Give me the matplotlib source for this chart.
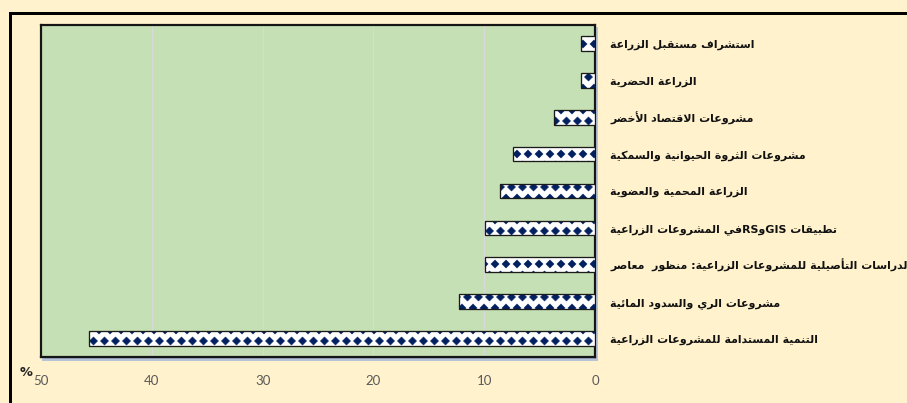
import re

import matplotlib
matplotlib.use('Agg')
import matplotlib.hatch
from matplotlib import pyplot
from matplotlib.patches import Rectangle
from matplotlib.path import Path

# data, top to bottom as in the chart
categories = [
    'استشراف مستقبل الزراعة',
    'الزراعة الحضرية',
    'مشروعات الاقتصاد الأخضر',
    'مشروعات الثروة الحيوانية والسمكية',
    'الزراعة المحمية والعضوية',
    'تطبيقات GISوRSفي المشروعات الزراعية',
    'الدراسات التأصيلية للمشروعات الزراعية: منظور  معاصر',
    'مشروعات الري والسدود المائية',
    'التنمية المستدامة للمشروعات الزراعية',
]
percent = [1.3, 1.3, 3.7, 7.4, 8.6, 9.9, 9.9, 12.3, 45.7]
xticks = [50, 40, 30, 20, 10, 0]

W, H, DPI = 907, 403, 66
PX = 72.0 / DPI  # points per pixel

AR_LETTERS = 'ءآأؤإئابةتثجحخدذرزسشصضطظعغفقكلمنهوىي'
RIGHT_ONLY = 'آأؤإاةدذرزوى'
LAM_ALEF = {'آ': 0xFEF5, 'أ': 0xFEF7, 'إ': 0xFEF9, 'ا': 0xFEFB}


def shape_arabic(text):
    """joins arabic letters (presentation forms) and puts them in visual order,
    since matplotlib has no complex text layout"""
    forms = {}
    code = 0xFE80
    for ch in AR_LETTERS:
        n = 1 if ch == 'ء' else (2 if ch in RIGHT_ONLY else 4)
        forms[ch] = (code, n)
        code += n
    units = []
    i = 0
    while i < len(text):
        ch = text[i]
        if ch == 'ل' and i + 1 < len(text) and text[i + 1] in LAM_ALEF:
            units.append((LAM_ALEF[text[i + 1]], 2))
            i += 2
        elif ch in forms:
            units.append(forms[ch])
            i += 1
        else:
            units.append((ch, 0))
            i += 1
    out = []
    for k, (base, n) in enumerate(units):
        if n == 0:
            out.append(base)
            continue
        if n == 1:
            out.append(chr(base))
            continue
        prev_joins = k > 0 and units[k - 1][1] == 4
        next_joins = n == 4 and k + 1 < len(units) and units[k + 1][1] >= 2
        if prev_joins and next_joins:
            idx = 3
        elif next_joins:
            idx = 2
        elif prev_joins:
            idx = 1
        else:
            idx = 0
        out.append(chr(base + idx))
    shaped = ''.join(out)
    runs = re.findall(r'[A-Za-z0-9]+|[^A-Za-z0-9]+', shaped)
    runs = [r if re.match(r'[A-Za-z0-9]', r) else r[::-1] for r in runs]
    return ''.join(reversed(runs))


class FilledDiamonds(matplotlib.hatch.Shapes):
    # stands in for the '.' hatch, like the excel diamond fill
    size = 0.37
    filled = True

    def __init__(self, hatch, density):
        self.num_rows = hatch.count('.') * density
        path = Path.unit_regular_polygon(4)
        self.shape_vertices = path.vertices
        self.shape_codes = path.codes
        super().__init__(hatch, density)


_types = matplotlib.hatch._hatch_types
_types[_types.index(matplotlib.hatch.SmallFilledCircles)] = FilledDiamonds
pyplot.rcParams['hatch.linewidth'] = 0.5

fig = pyplot.figure(figsize=(W / DPI, H / DPI), dpi=DPI, facecolor='#FFF2CC')

# black frame along the top and left edge
fig.patches.append(Rectangle((9.5 / W, -0.2), 1.2, 1.2 - 12.5 / H,
                             transform=fig.transFigure, fill=False,
                             edgecolor='black', lw=3 * PX))

x0, x1, y0, y1 = 41, 595, 25, 357
# soft shadow behind the plot area
fig.patches.append(Rectangle(((x0 + 1.5) / W, 1 - (y1 + 2.5) / H), (x1 - x0) / W, (y1 - y0) / H,
                             transform=fig.transFigure, facecolor='#9aa8c0',
                             edgecolor='#b7c3d6', lw=2 * PX, zorder=-1))

ax = fig.add_axes([x0 / W, 1 - y1 / H, (x1 - x0) / W, (y1 - y0) / H])
ax.set_facecolor('#C5E0B4')

ypos = list(range(len(categories)))
ax.barh(ypos, percent, height=0.4, color='white', edgecolor='#002060',
        hatch='.', lw=0, zorder=3)
ax.barh(ypos, percent, height=0.4, fill=False, edgecolor='#1a1a1a',
        lw=1.3 * PX, zorder=4)

ax.set_xlim(50, 0)
ax.set_ylim(len(categories) - 0.5, -0.5)
ax.set_xticks(xticks)
ax.set_xticklabels([str(t) for t in xticks], fontfamily='Lato',
                   fontsize=14.5, color='#595959')
ax.tick_params(axis='x', length=0, pad=18 * PX)
ax.grid(axis='x', color='#d9d9d9', lw=1.0 * PX, zorder=1)
ax.set_axisbelow(True)

ax.yaxis.tick_right()
ax.set_yticks(ypos)
ax.set_yticklabels([shape_arabic(c) for c in categories], fontfamily='DejaVu Sans',
                   fontweight='bold', fontsize=12, color='#111111')
ax.tick_params(axis='y', length=0, pad=15 * PX)

for s in ax.spines.values():
    s.set_color('#151515')
    s.set_linewidth(2.2 * PX)

fig.text(26 / W, 1 - 372 / H, '%', fontfamily='DejaVu Sans', fontweight='bold',
         fontsize=14, color='#222222', ha='center', va='center')

fig.savefig('out.png', dpi=DPI, facecolor=fig.get_facecolor())
